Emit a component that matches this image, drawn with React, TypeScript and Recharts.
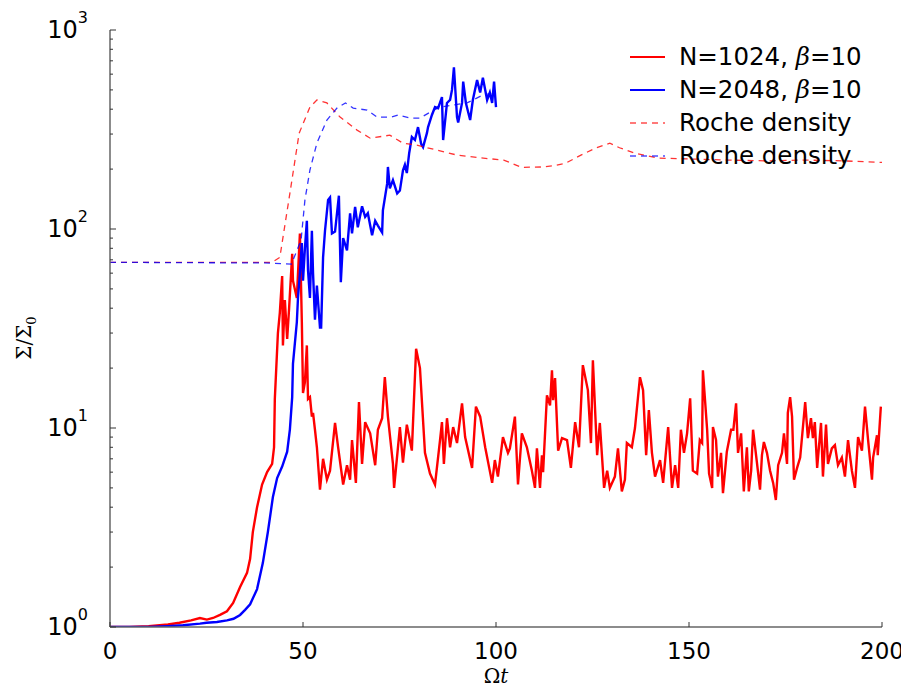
import React from "react";
import { LineChart, Line, XAxis, YAxis, Legend } from "recharts";

// [Ωt, Σ/Σ0] pairs
const n1024: [number, number][] = [
  [0, 1.0], [5, 1.0], [10, 1.01], [15, 1.03], [18, 1.05], [21, 1.08], [23.3, 1.11], [25.1, 1.09],
  [26.7, 1.11], [28.5, 1.15], [30.3, 1.2], [31.9, 1.32], [33.7, 1.59], [35.5, 1.87], [36.3, 2.2],
  [37, 3.0], [38.1, 4.0], [39.4, 5.2], [40.7, 6.0], [42, 6.6], [42.5, 8], [42.7, 14], [43.5, 30],
  [44, 38], [44.6, 58], [44.8, 26], [45.3, 44], [45.9, 28], [46.4, 40], [47.2, 75], [47.4, 55],
  [48.4, 45], [49.2, 95], [49.7, 34], [50, 15], [50.5, 17], [51, 26], [51.3, 14], [51.8, 14.3],
  [52.3, 11.4], [52.6, 11.9], [53.1, 9.8], [53.6, 8], [54.4, 4.9], [55.2, 7], [56.2, 5.5], [57, 6.1],
  [58.3, 10.6], [59.1, 8], [60.4, 5.2], [61.4, 6.5], [62.2, 5.5], [62.7, 8.7], [63.7, 5.3], [64.5, 13.5],
  [65.3, 6.6], [66.1, 10.7], [67.4, 9.4], [68.7, 6.5], [69.4, 9.8], [70.5, 11.2], [71.2, 18], [72, 11.4],
  [73.3, 6.6], [73.6, 5.0], [75.1, 10.1], [75.9, 6.7], [76.9, 10.4], [78.2, 7.7], [79.3, 25], [80.3, 20],
  [81.6, 7.5], [82.9, 5.9], [84.2, 5.2], [85.5, 8.7], [86, 10.7], [86.5, 6.6], [87.3, 11.2], [88.1, 8],
  [88.9, 10.1], [89.9, 8.4], [91.2, 13.3], [92, 9], [93.8, 6.3], [94.8, 12.8], [95.9, 11.4], [97.2, 8],
  [99, 5.3], [99.7, 6.9], [100.5, 5.7], [101.8, 9], [103.1, 7.5], [103.6, 7.9], [104.9, 11.4], [105.7, 5.2],
  [106.7, 9.4], [108, 8], [109.3, 6.1], [110.1, 5.0], [110.6, 7.9], [111.4, 5.0], [111.9, 7.3], [112.2, 6.0],
  [113.2, 14.6], [114, 13], [114.5, 19.5], [114.8, 13.8], [115.3, 17.8], [116.1, 7.7], [117.1, 8.9],
  [118.4, 8.7], [119.4, 6.3], [120.5, 10.7], [121.5, 8], [122.5, 20.7], [123.8, 15.5], [124.6, 8.4],
  [125.1, 21.9], [126.2, 7.3], [126.9, 10.6], [128, 5.0], [128.8, 6.1], [129.5, 5.0], [130.8, 5.7],
  [131.6, 7.9], [132.6, 4.8], [133.4, 5.5], [133.9, 8.4], [135.2, 8], [136, 10], [137.3, 18], [138.1, 15.5],
  [138.9, 7.3], [139.6, 12.3], [140.4, 7.5], [141.2, 5.7], [142.5, 6.9], [143.3, 5.3], [144.6, 10.1],
  [145.6, 5.0], [146.4, 6.5], [147.2, 5.0], [147.9, 9.8], [148.7, 7.5], [149.5, 9.4], [150.3, 14.1],
  [151, 6.1], [152.1, 5.9], [152.8, 8.7], [153.4, 8.4], [153.6, 19.5], [154.7, 9.8], [155.2, 5.9],
  [156, 5.0], [156.2, 10.1], [157, 8.7], [157.5, 5.7], [158.3, 7.5], [158.8, 4.7], [159.8, 7.6],
  [160.9, 9.8], [161.5, 9.8], [162.2, 13.3], [162.7, 7.5], [163.5, 9.4], [164.2, 4.8], [165, 8],
  [165.5, 4.8], [166.1, 6.1], [166.6, 9.8], [167.6, 6.7], [168.4, 4.9], [168.9, 7.3], [169.4, 8.5],
  [170.2, 7.5], [171, 6.1], [171.8, 5.3], [172.5, 4.35], [173.1, 6.5], [174.1, 7.5], [174.6, 9.4],
  [175.4, 6.6], [175.6, 11.9], [176.2, 14.3], [176.7, 11.4], [177.2, 5.5], [178, 6.3], [178.8, 7.1],
  [180.1, 13.5], [180.8, 8.9], [181.6, 11.2], [182.1, 8.9], [182.6, 10.7], [183.2, 6.3], [184.2, 10.6],
  [184.7, 5.7], [185.5, 10.4], [186, 6.6], [187, 7.9], [187.8, 8.2], [188.6, 6.5], [189.6, 7.1],
  [190.4, 5.7], [191.2, 8.7], [192.2, 6.1], [193, 5.0], [193.8, 9], [194.8, 7.7], [195.6, 12.8],
  [196.4, 8.7], [197.4, 5.5], [197.7, 7.1], [198.7, 9.2], [198.9, 7.3], [199.7, 12.8],
];

const n2048: [number, number][] = [
  [0, 1.0], [10, 1.0], [15, 1.01], [18.9, 1.02], [23.3, 1.04], [25, 1.05], [27.7, 1.06], [30.3, 1.08],
  [32, 1.1], [33.7, 1.15], [35, 1.22], [36.3, 1.3], [38.1, 1.55], [39.6, 2.1], [40.9, 3.0], [42.2, 4.5],
  [43.3, 5.6], [44.6, 6.4], [45.9, 7.6], [46.6, 9.8], [47.2, 14.3], [47.4, 21], [48.4, 34], [48.7, 45],
  [49.2, 60], [49.7, 85], [50, 55], [50.5, 80], [51, 110], [51.3, 62], [51.8, 45], [52.3, 98], [52.6, 60],
  [53.1, 35], [53.6, 52], [54.4, 32], [54.7, 32], [55.2, 72], [55.7, 98], [56.5, 140], [57, 144],
  [57.5, 95], [58.3, 97], [59.3, 147], [59.8, 54], [60.4, 90], [61.4, 78], [62.2, 120], [62.7, 95],
  [63.5, 129], [64.2, 102], [65.3, 130], [66.1, 115], [66.8, 120], [67.9, 93], [68.7, 110], [69.4, 104],
  [70.5, 96], [70.7, 124], [71.8, 169], [72, 205], [72.5, 160], [73.3, 176], [74.4, 151], [75.1, 156],
  [75.9, 197], [76.4, 210], [76.9, 191], [77.5, 240], [78.2, 290], [79, 280], [79.8, 325], [80.6, 268],
  [81.1, 258], [82.1, 303], [82.4, 325], [83.4, 374], [84.2, 410], [85, 405], [86, 460], [86.3, 280],
  [87.3, 430], [88.1, 445], [88.6, 500], [89.1, 650], [89.9, 365], [90.2, 343], [91.2, 430], [91.5, 550],
  [92.2, 430], [93.3, 353], [94, 445], [95.1, 560], [95.9, 485], [96.6, 575], [97.7, 445], [98.4, 485],
  [99, 430], [99.5, 550], [100, 410],
];

const roche1024: [number, number][] = [
  [0, 68], [42, 68], [44, 72], [46.6, 151], [49, 303], [51.8, 410], [53.6, 445], [56.2, 430],
  [59.6, 365], [64, 314], [67.4, 286], [72.5, 296], [75.9, 270], [79.5, 264], [84.7, 249], [90, 235],
  [96.7, 227], [102, 222], [106.7, 204], [112, 205], [115, 208], [118, 214], [122, 235], [126, 256],
  [129.5, 270], [132, 256], [136, 240], [142, 227], [150, 225], [160, 222], [170, 220], [180, 222],
  [190, 220], [200, 216],
];

const roche2048: [number, number][] = [
  [0, 68], [40, 67.5], [47, 66.6], [49.5, 88], [50.5, 140], [51.8, 198], [53.6, 270], [56.2, 353],
  [58.8, 405], [61, 430], [63, 405], [66.6, 396], [69.2, 365], [72.8, 365], [74.6, 374], [77.7, 361],
  [80.3, 361], [83, 387], [85.5, 410], [92.5, 430], [96.6, 471], [99.2, 482],
];

const xTicks = [0, 50, 100, 150, 200];
const yDecades = [1, 10, 100, 1000];
const yTicks = yDecades.flatMap((d) =>
  d === 1000 ? [d] : [1, 2, 3, 4, 5, 6, 7, 8, 9].map((m) => m * d)
);

const legendItems = [
  { label: "N=1024, ", color: "#ff0000", dashed: false, beta: true },
  { label: "N=2048, ", color: "#0000ff", dashed: false, beta: true },
  { label: "Roche density", color: "#ff0000", dashed: true, beta: false },
  { label: "Roche density", color: "#0000ff", dashed: true, beta: false },
];

const toPoints = (arr: [number, number][]) => arr.map(([x, y]) => ({ x, y }));

const FONT = "'DejaVu Sans', sans-serif";
const AXIS = "#666";

function YTick(props: any) {
  const { x, y, payload } = props;
  const v = payload.value;
  const exp = Math.round(Math.log10(v));
  const major = Math.abs(Math.pow(10, exp) - v) < 1e-6;
  return (
    <g>
      <line x1={x} x2={x + (major ? 6 : 3)} y1={y} y2={y} stroke="#333" strokeWidth={1} />
      {major && (
        <text x={x - 22} y={y + 8} textAnchor="end" fontSize={24} fontFamily={FONT} fill="#000">
          10
          <tspan dy={-15} fontSize={16}>{exp}</tspan>
        </text>
      )}
    </g>
  );
}

function XTick(props: any) {
  const { x, y, payload } = props;
  return (
    <g>
      <line x1={x} x2={x} y1={y} y2={y - 5} stroke="#333" strokeWidth={1} />
      <text x={x} y={y + 32} textAnchor="middle" fontSize={23} fontFamily={FONT} fill="#000">
        {payload.value}
      </text>
    </g>
  );
}

function LegendBox() {
  return (
    <svg width={280} height={140}>
      {legendItems.map((it, i) => {
        const cy = 19 + i * 33;
        return (
          <g key={i}>
            <line
              x1={10}
              x2={45}
              y1={cy}
              y2={cy}
              stroke={it.color}
              strokeWidth={it.dashed ? 1.4 : 2.2}
              strokeOpacity={it.dashed ? 0.7 : 1}
              strokeDasharray={it.dashed ? "6 5" : undefined}
            />
            <text x={59} y={cy + 8} fontSize={24.5} fontFamily={FONT} fill="#000">
              {it.label}
              {it.beta && (
                <>
                  <tspan fontStyle="italic" fontFamily="'DejaVu Serif', serif">β</tspan>
                  <tspan>=10</tspan>
                </>
              )}
            </text>
          </g>
        );
      })}
    </svg>
  );
}

export default function App() {
  return (
    <div style={{ position: "relative", width: 909, height: 692, margin: -8, background: "#fff" }}>
      <LineChart width={909} height={692} margin={{ top: 30, right: 27, bottom: 0, left: 0 }}>
        <XAxis
          type="number"
          dataKey="x"
          domain={[0, 200]}
          ticks={xTicks}
          height={65}
          tickSize={0}
          tickMargin={0}
          tick={<XTick />}
          axisLine={{ stroke: AXIS, strokeWidth: 1.5 }}
          allowDataOverflow
        />
        <YAxis
          type="number"
          dataKey="y"
          scale="log"
          domain={[1, 1000]}
          ticks={yTicks}
          width={110}
          tickSize={0}
          tickMargin={0}
          tick={<YTick />}
          interval={0}
          axisLine={{ stroke: AXIS, strokeWidth: 1.5 }}
          allowDataOverflow
        />
        <Legend
          layout="vertical"
          align="center"
          verticalAlign="middle"
          content={<LegendBox />}
          wrapperStyle={{ left: 620, top: 38, width: 280, height: 140 }}
        />
        <Line data={toPoints(n1024)} dataKey="y" stroke="#ff0000" strokeWidth={2.4} dot={false} isAnimationActive={false} />
        <Line data={toPoints(n2048)} dataKey="y" stroke="#0000ff" strokeWidth={2.4} dot={false} isAnimationActive={false} />
        <Line data={toPoints(roche1024)} dataKey="y" stroke="#ff0000" strokeOpacity={0.8} strokeWidth={1.3} strokeDasharray="6 5" dot={false} isAnimationActive={false} />
        <Line data={toPoints(roche2048)} dataKey="y" stroke="#0000ff" strokeOpacity={0.8} strokeWidth={1.3} strokeDasharray="6 5" dot={false} isAnimationActive={false} />
      </LineChart>
      <div
        style={{
          position: "absolute",
          left: 496,
          top: 667,
          transform: "translateX(-50%)",
          fontFamily: "'DejaVu Serif', serif",
          fontSize: 20,
          lineHeight: "18px",
          whiteSpace: "nowrap",
        }}
      >
        Ω<i>t</i>
      </div>
      <div
        style={{
          position: "absolute",
          left: 28,
          top: 338,
          transform: "translate(-50%, -50%) rotate(-90deg)",
          fontFamily: "'DejaVu Serif', serif",
          fontSize: 20,
          lineHeight: "22px",
          whiteSpace: "nowrap",
        }}
      >
        Σ/Σ<sub style={{ fontSize: 13 }}>0</sub>
      </div>
    </div>
  );
}
